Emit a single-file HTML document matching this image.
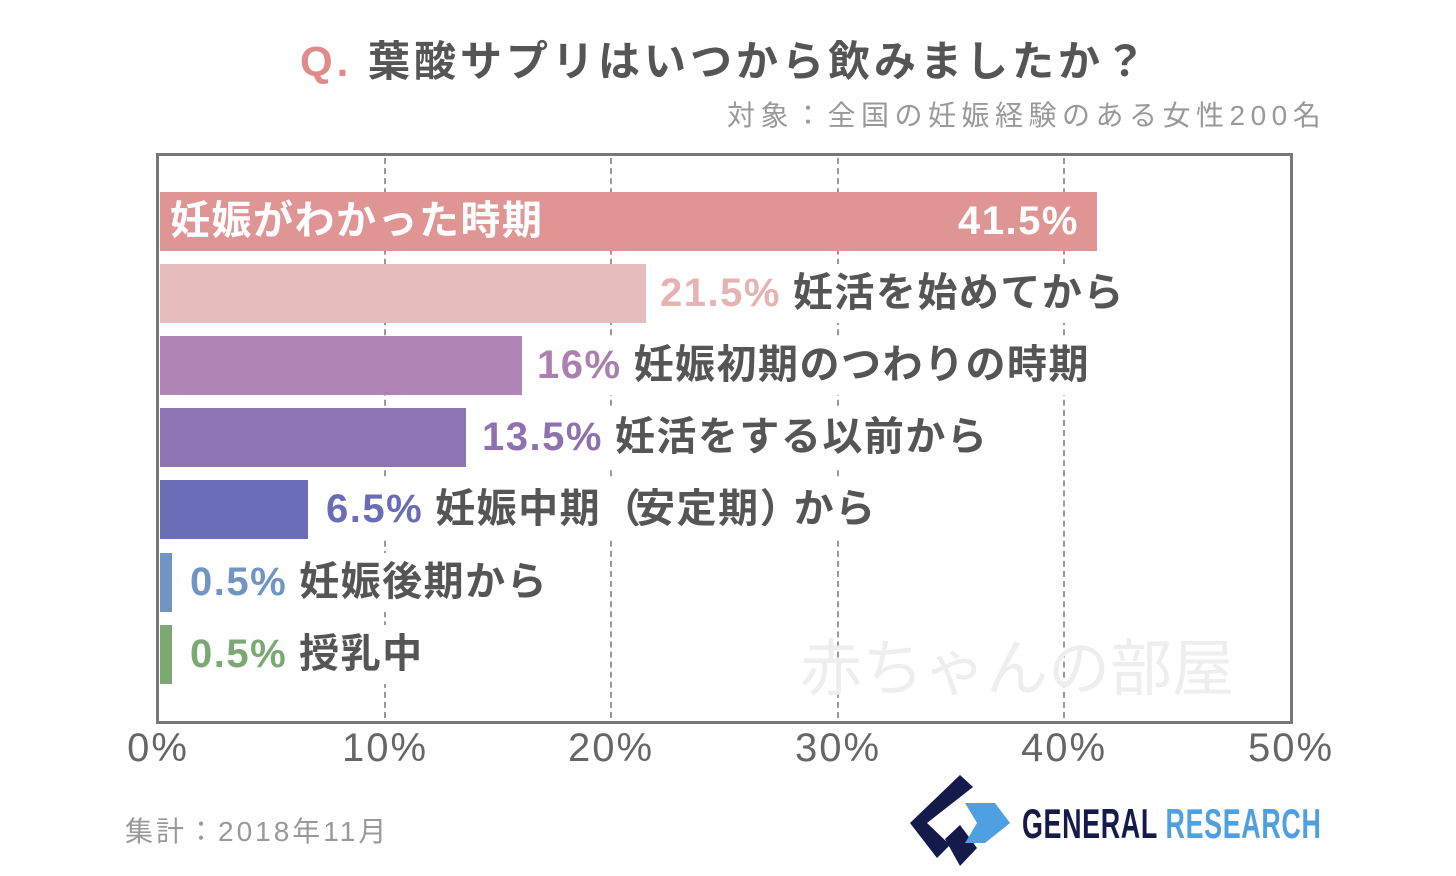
<!DOCTYPE html>
<html><head><meta charset="utf-8"><style>
body{margin:0;width:1456px;height:876px;background:#fff;position:relative;overflow:hidden;font-family:"Liberation Sans","Noto Sans CJK JP",sans-serif;}
.a{position:absolute;white-space:nowrap}
.bar{position:absolute;left:160px;height:59px}
.lab{position:absolute;font-size:40px;font-weight:bold;line-height:59px;white-space:nowrap;color:#555;letter-spacing:1.5px;background:#fff;padding-right:4px}
.lab b{margin-right:12px}
.grid{position:absolute;top:158px;height:560px;border-left:2px dashed #999}
.tick{position:absolute;top:726px;font-size:40px;color:#666;width:140px;text-align:center;letter-spacing:2px}
</style></head><body>
<div class="a" style="left:300px;top:28px;font-size:42px;font-weight:bold;color:#555;letter-spacing:4px"><span style="color:#e08a8a">Q.</span> 葉酸サプリはいつから飲みましたか？</div>
<div class="a" style="left:727px;top:94px;font-size:28px;color:#999;letter-spacing:5.5px">対象：全国の妊娠経験のある女性200名</div>
<div class="a" style="left:156px;top:153px;width:1131px;height:565px;border:3px solid #777"></div>
<div class="grid" style="left:384px"></div>
<div class="grid" style="left:610px"></div>
<div class="grid" style="left:837px"></div>
<div class="grid" style="left:1063px"></div>
<div class="a" style="left:800px;top:618px;font-size:62px;color:#eee">赤ちゃんの部屋</div>
<div class="bar" style="top:192px;width:937px;background:#e09595"></div>
<div class="lab" style="left:170px;top:192px;color:#fff;background:none">妊娠がわかった時期</div>
<div class="lab" style="left:958px;top:192px;color:#fff;background:none">41.5%</div>
<div class="bar" style="top:264px;width:486px;background:#e6bcbc"></div>
<div class="lab" style="left:660px;top:264px"><b style="color:#e6b3b3">21.5%</b>妊活を始めてから</div>
<div class="bar" style="top:336px;width:362px;background:#b085b5"></div>
<div class="lab" style="left:537px;top:336px"><b style="color:#ab80b0">16%</b>妊娠初期のつわりの時期</div>
<div class="bar" style="top:408px;width:306px;background:#8e75b3"></div>
<div class="lab" style="left:482px;top:408px"><b style="color:#8e72b0">13.5%</b>妊活をする以前から</div>
<div class="bar" style="top:480px;width:148px;background:#6b6db7"></div>
<div class="lab" style="left:326px;top:480px"><b style="color:#6a6db5">6.5%</b>妊娠中期<span style="letter-spacing:-6px">（</span>安定期<span style="letter-spacing:-6px">）</span>から</div>
<div class="bar" style="top:553px;width:12px;background:#7095c2"></div>
<div class="lab" style="left:190px;top:553px"><b style="color:#7095c2">0.5%</b>妊娠後期から</div>
<div class="bar" style="top:625px;width:12px;background:#7aaa72"></div>
<div class="lab" style="left:190px;top:625px"><b style="color:#7aaa72">0.5%</b>授乳中</div>
<div class="tick" style="left:88px">0%</div>
<div class="tick" style="left:315px">10%</div>
<div class="tick" style="left:541px">20%</div>
<div class="tick" style="left:768px">30%</div>
<div class="tick" style="left:994px">40%</div>
<div class="tick" style="left:1221px">50%</div>
<div class="a" style="left:125px;top:810px;font-size:28px;color:#999;letter-spacing:3px">集計：2018年11月</div>
<svg class="a" style="left:905px;top:773px" width="110" height="95" viewBox="0 0 110 95">
<polygon points="55,2 68,14 22,50 45,72 32,85 5,50" fill="#141a4a"/>
<polygon points="40,66 55,52 72,75 55,93" fill="#141a4a"/>
<polygon points="60,30 90,30 105,50 80,70 60,70 72,50" fill="#4ea0e0"/>
</svg>
<div class="a" style="left:1022px;top:800px;font-size:42px;font-weight:bold;color:#141a4a;transform:scaleX(0.64);transform-origin:left;letter-spacing:1px">GENERAL <span style="color:#4ea0e0">RESEARCH</span></div>
</body></html>
